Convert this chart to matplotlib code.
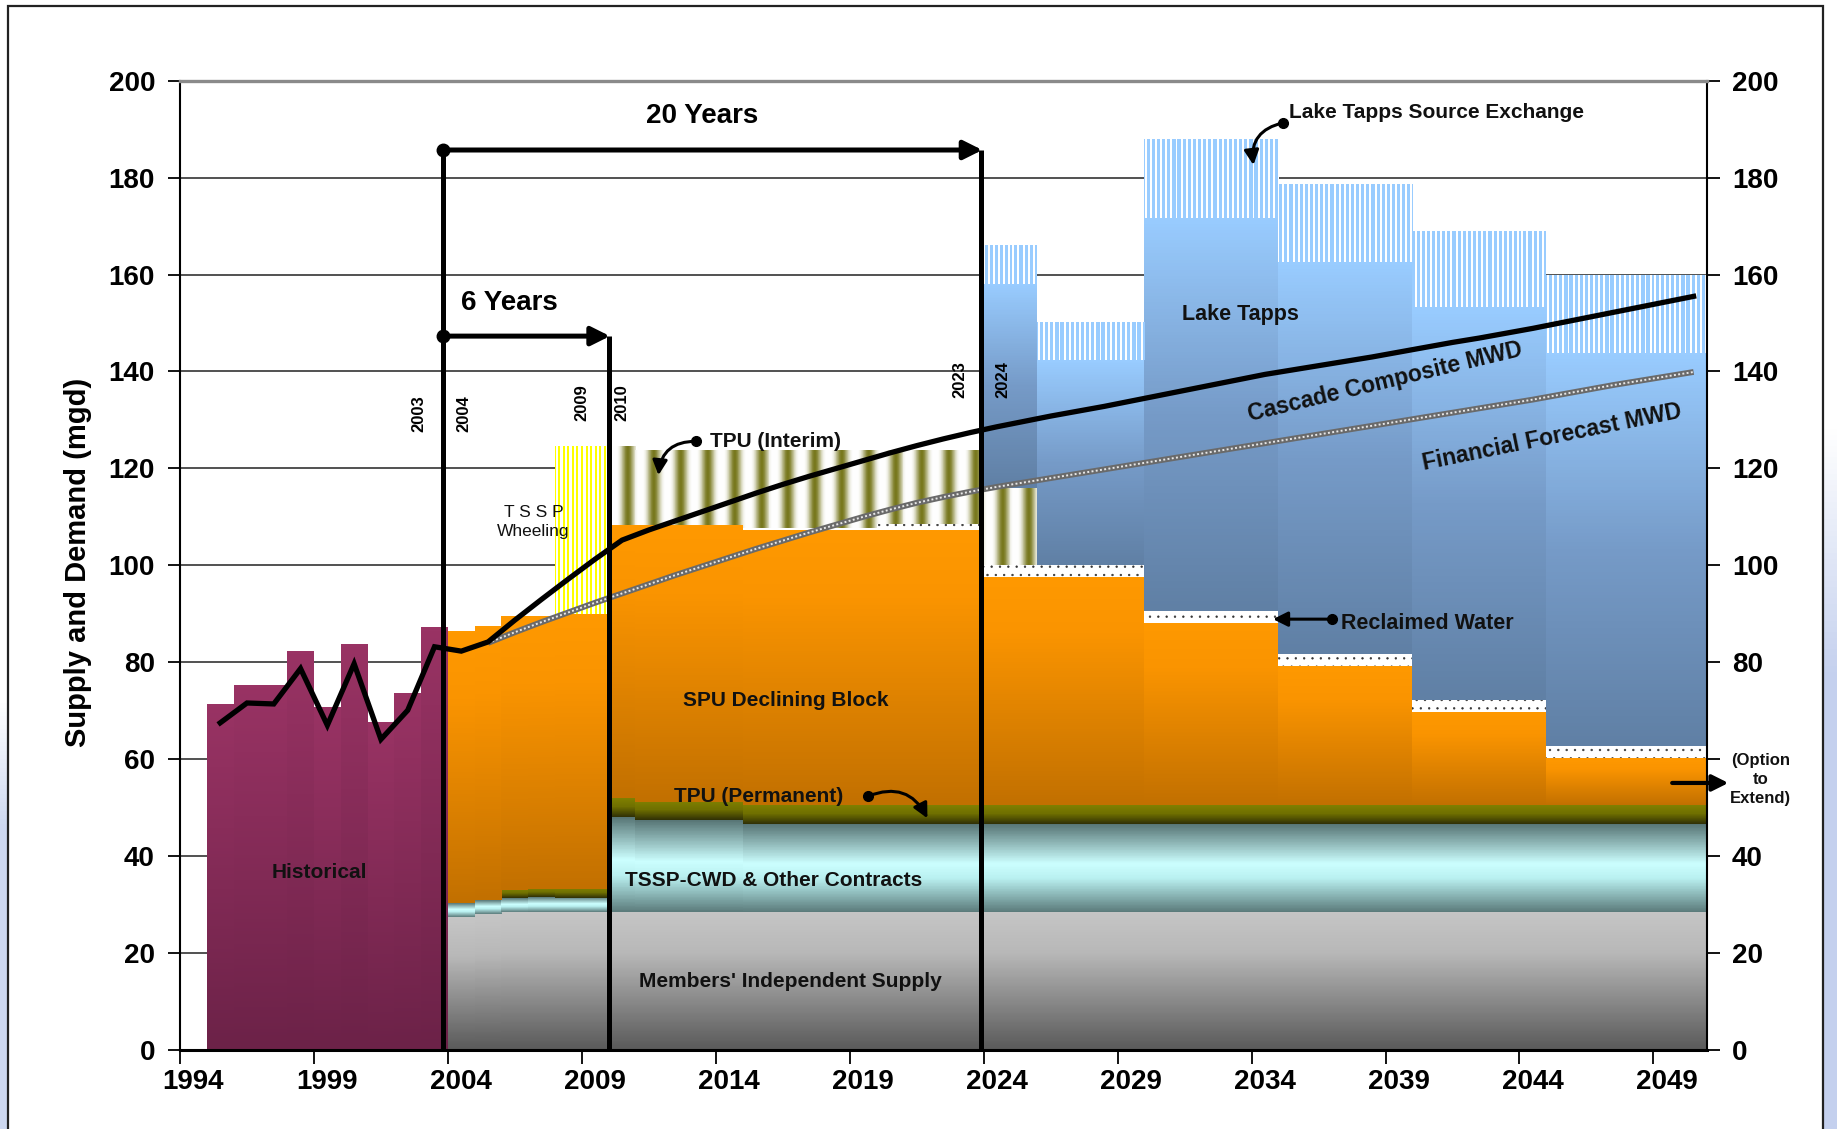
import numpy as np
import matplotlib
matplotlib.use("Agg")
import matplotlib.pyplot as plt
from matplotlib.patches import Rectangle

# ---------------- data (mgd), one value per year 1994..2050 ----------------
years = list(range(1994, 2051))

historical = [0, 71.3, 75.2, 75.2, 82.3, 70.7, 83.6, 67.5, 73.5, 87.2] + [0] * 47
members = [0] * 10 + [27.5, 28.1] + [28.5] * 45
tssp_cwd = [0] * 10 + [2.8, 2.8, 2.8, 3.0, 2.9, 2.9] + [19.6] + [18.9] * 4 + [18.1] * 36
tpu_permanent = [0] * 10 + [0, 0, 1.8, 1.8, 1.9, 1.9] + [3.8] + [3.8] * 4 + [3.9] * 36
spu_block = ([0] * 10 + [56.0, 56.4, 56.5, 56.3, 56.6, 56.6] + [56.4] + [57.1] * 4
             + [56.8] * 9 + [47.1] * 6 + [37.6] * 5 + [28.7] * 5 + [19.3] * 5 + [9.8] * 6)
reclaimed = [0] * 21 + [0.5] * 5 + [1.2] * 4 + [2.5] * 27
tssp_wheeling = [0] * 14 + [34.5, 34.5] + [0] * 41
tpu_interim = [0] * 16 + [16.3] + [15.4] * 4 + [15.9] * 5 + [15.2] * 4 + [15.9] * 2 + [0] * 25
lake_tapps = [0] * 30 + [42.1] * 2 + [42.2] * 4 + [81.1] * 5 + [80.8] * 5 + [81.0] * 5 + [81.1] * 6
lt_exchange = [0] * 30 + [8.0] * 2 + [7.7] * 4 + [16.1] * 5 + [15.9] * 5 + [15.6] * 5 + [16.0] * 6

nan = np.nan
cascade_mwd = [nan, 67.5, 71.6, 71.4, 78.7, 67.0, 79.7, 64.1, 70.1, 83.2,
               82.3, 84.2, 88.7, 93.0, 97.2, 101.3, 105.2, 107.3, 109.2, 111.1,
               113.0, 114.9, 116.7, 118.4, 120.0, 121.6, 123.2, 124.7, 126.1, 127.4,
               128.6, 129.7, 130.8, 131.8, 132.8, 133.9, 135.0, 136.1, 137.2, 138.3,
               139.4, 140.3, 141.2, 142.1, 143.0, 144.0, 145.0, 146.0, 146.9, 147.9,
               148.9, 150.0, 151.1, 152.2, 153.3, 154.4, 155.5]
financial_mwd = [nan] * 11 + [84.0, 86.2, 88.3, 90.3, 92.3, 94.2, 96.1, 98.0, 99.8,
                              101.6, 103.4, 105.1, 106.8, 108.4, 110.0, 111.5, 112.9, 114.1,
                              115.2, 116.2, 117.1, 118.0, 118.9, 119.8, 120.7, 121.6, 122.5,
                              123.4, 124.3, 125.2, 126.1, 127.0, 127.9, 128.8, 129.7, 130.6,
                              131.5, 132.4, 133.3, 134.2, 135.2, 136.2, 137.2, 138.1, 139.0,
                              139.9]

label_years = list(range(1994, 2050, 5))
y_ticks = list(range(0, 201, 20))

# milestone positions (year boundaries) and horizon arrows
line_2003, line_2009, line_2023 = 2003.3, 2009.5, 2023.4
arrow20_y, arrow6_y = 185.7, 147.3

# ---------------- styling helpers ----------------
plt.rcParams['hatch.linewidth'] = 0.45
TICKFONT = ['Liberation Sans', 'DejaVu Sans']
NARROW = ['Liberation Sans Narrow', 'Liberation Sans', 'DejaVu Sans']


def c(*v):
    return np.array(v, dtype=float) / 255.0


WHITE = c(255, 255, 255)


def vgrad(stops, n=120):
    pos = np.linspace(0, 1, n)
    p = [s[0] for s in stops]

    def painter(x0, x1):
        arr = np.zeros((n, 1, 3))
        for k in range(3):
            arr[:, 0, k] = np.interp(pos, p, [s[1][k] for s in stops])
        return arr
    return painter


def stripes(color, period, duty, ncols=160):
    def painter(x0, x1):
        xs = x0 + (np.arange(ncols) + 0.5) / ncols * (x1 - x0)
        ph = ((xs - 1993.5) / period) % 1.0
        m = (ph < duty)[:, None]
        arr = np.where(m, color[None, :], WHITE[None, :])
        return arr[None, :, :]
    return painter


def bar_hgrad(color, peak, power, ncols=120):
    # horizontal gradient inside each bar: white -> colour -> white
    def painter(x0, x1):
        ph = (np.arange(ncols) + 0.5) / ncols
        s = (0.5 + 0.5 * np.cos(2 * np.pi * (ph - peak))) ** power
        arr = WHITE[None, :] * (1 - s[:, None]) + color[None, :] * s[:, None]
        return arr[None, :, :]
    return painter


fig = plt.figure(figsize=(18.37, 11.29), dpi=100)
fig.patch.set_facecolor('white')

# slide background strips and frame
bg = fig.add_axes([1823 / 1837, 0, 14 / 1837, 1])
g = np.ones((200, 1, 3))
t = np.linspace(0, 1, 200)
for k, b in enumerate([196, 208, 238]):
    g[:, 0, k] = np.interp(t, [0, 0.38, 0.6, 1], [255, 255, b, b]) / 255
bg.imshow(g, aspect='auto', extent=[0, 1, 0, 1])
bg.axis('off')
bg2 = fig.add_axes([0, 0, 8 / 1837, 0.38])
g2 = np.ones((100, 1, 3))
for k, b in enumerate([205, 216, 240]):
    g2[:, 0, k] = np.interp(np.linspace(0, 1, 100), [0, 0.3, 1], [255, b, b]) / 255
bg2.imshow(g2, aspect='auto', extent=[0, 1, 0, 1])
bg2.axis('off')
fig.add_artist(Rectangle((8 / 1837, -0.02), (1823 - 8) / 1837, 1.02 - 6 / 1129,
                         transform=fig.transFigure, fill=False, lw=1.6, ec='#222222'))

ax = fig.add_axes([180 / 1837, 1 - 1050 / 1129, (1707 - 180) / 1837, (1050 - 80.7) / 1129])
ax.set_facecolor('white')
x = np.array(years, dtype=float)

series = [
    (historical, vgrad([(0, c(153, 51, 100)), (1, c(108, 34, 72))])),
    (members, vgrad([(0, c(198, 198, 198)), (0.3, c(184, 184, 184)), (1, c(90, 90, 90))])),
    (tssp_cwd, vgrad([(0, c(88, 118, 118)), (0.45, c(204, 255, 255)), (0.62, c(185, 240, 240)),
                      (1, c(92, 124, 124))])),
    (tpu_permanent, vgrad([(0, c(128, 128, 0)), (0.45, c(112, 112, 0)), (1, c(48, 48, 6))])),
    (spu_block, vgrad([(0, c(255, 153, 0)), (0.25, c(250, 148, 0)), (1, c(194, 112, 0))])),
    (reclaimed, 'dots'),
    (tssp_wheeling, stripes(c(255, 255, 0), 0.17, 0.45)),
    (tpu_interim, bar_hgrad(c(120, 120, 30), 0.7, 1.8)),
    (lake_tapps, vgrad([(0, c(153, 204, 255)), (0.5, c(118, 155, 200)), (1, c(96, 128, 165))])),
    (lt_exchange, stripes(c(153, 204, 255), 0.19, 0.62)),
]

bottom = np.zeros(len(years))
for vals, painter in series:
    v = np.array(vals, dtype=float)
    if painter == 'dots':
        ax.bar(x, v, bottom=bottom, width=1.0, facecolor='white', edgecolor='#333333',
               hatch='..', linewidth=0, zorder=2)
    else:
        bars = ax.bar(x, v, bottom=bottom, width=1.0, color='none', linewidth=0, zorder=2)
        for rect, h in zip(bars, v):
            if h <= 0:
                continue
            x0 = rect.get_x()
            x1 = x0 + rect.get_width()
            y0 = rect.get_y()
            y1 = y0 + rect.get_height()
            ax.imshow(painter(x0, x1), extent=[x0, x1, y0, y1], origin='upper',
                      aspect='auto', interpolation='nearest', zorder=2)
    bottom = bottom + v

# demand lines
ax.plot(x, financial_mwd, color='#6a6a6a', lw=4.2, zorder=6, solid_capstyle='butt')
ax.plot(x, financial_mwd, color='#e8e8e8', lw=1.4, ls=(0, (1, 1.2)), zorder=6.1)
ax.plot(x, cascade_mwd, color='black', lw=3.8, zorder=6.5, solid_joinstyle='miter')

# milestone lines and horizon arrows
for lx, top in [(line_2003, arrow20_y), (line_2009, arrow6_y), (line_2023, arrow20_y)]:
    ax.plot([lx, lx], [0, top], color='black', lw=3.6, zorder=7, solid_capstyle='butt')
for y_a, x_end, txt, tx, ty in [(arrow20_y, line_2023, '20 Years', 2013.0, 192.7),
                                (arrow6_y, line_2009, '6 Years', 2005.8, 154.1)]:
    ax.annotate('', xy=(x_end + 0.05, y_a), xytext=(line_2003, y_a),
                arrowprops=dict(arrowstyle='-|>', color='black', lw=3.6,
                                mutation_scale=28, shrinkA=0, shrinkB=0), zorder=7)
    ax.plot([line_2003], [y_a], 'o', color='black', ms=9, zorder=7.5)
    ax.text(tx, ty, txt, ha='center', va='center', fontsize=20, fontweight='bold',
            family=TICKFONT, zorder=8)

for txt, tx, ty in [('2003', 2002.4, 131.4), ('2004', 2004.1, 131.4), ('2009', 2008.5, 133.5),
                    ('2010', 2010.0, 133.5), ('2023', 2022.6, 138.4), ('2024', 2024.2, 138.4)]:
    ax.text(tx, ty, txt, rotation=90, ha='center', va='center', fontsize=12,
            fontweight='bold', family=NARROW, zorder=8)

# text labels
lab = dict(fontweight='bold', family=NARROW, color='#111111', zorder=8)
ax.text(2034.9, 193.4, 'Lake Tapps Source Exchange', ha='left', va='center', fontsize=15, **lab)
ax.text(2033.1, 151.7, 'Lake Tapps', ha='center', va='center', fontsize=15.5, **lab)
ax.text(2038.5, 137.9, 'Cascade Composite MWD', ha='center', va='center', fontsize=16.5,
        rotation=13.5, **lab)
ax.text(2044.7, 126.5, 'Financial Forecast MWD', ha='center', va='center', fontsize=16.5,
        rotation=11.5, **lab)
ax.text(2013.3, 125.6, 'TPU (Interim)', ha='left', va='center', fontsize=15, **lab)
ax.text(2006.7, 108.9, 'T S S P\nWheeling', ha='center', va='center', fontsize=12.5,
        family=NARROW, color='#111111', zorder=8, linespacing=1.3)
ax.text(2016.1, 72.2, 'SPU Declining Block', ha='center', va='center', fontsize=15, **lab)
ax.text(2015.1, 52.4, 'TPU (Permanent)', ha='center', va='center', fontsize=15, **lab)
ax.text(1998.7, 36.7, 'Historical', ha='center', va='center', fontsize=15, **lab)
ax.text(2015.65, 35.0, 'TSSP-CWD & Other Contracts', ha='center', va='center', fontsize=15, **lab)
ax.text(2016.3, 14.2, "Members' Independent Supply", ha='center', va='center', fontsize=15, **lab)
ax.text(2036.85, 88.1, 'Reclaimed Water', ha='left', va='center', fontsize=15.5, **lab)
ax.text(2052.5, 55.8, '(Option\nto\nExtend)', ha='center', va='center', fontsize=12,
        linespacing=1.35, clip_on=False, **lab)

# curved pointer arrows with dot tails
for (dx, dy), (hx, hy), rad in [((2034.67, 191.3), (2033.57, 182.6), 0.45),
                                ((2012.76, 125.6), (2011.36, 118.6), 0.45),
                                ((2019.2, 52.4), (2021.4, 47.8), -0.45),
                                ((2036.5, 88.9), (2034.3, 88.9), 0.0)]:
    ax.annotate('', xy=(hx, hy), xytext=(dx, dy),
                arrowprops=dict(arrowstyle='-|>', color='black', lw=2.2, mutation_scale=22,
                                shrinkA=0, shrinkB=0,
                                connectionstyle='arc3,rad=%s' % rad), zorder=8)
    ax.plot([dx], [dy], 'o', color='black', ms=7, zorder=8)
ax.annotate('', xy=(2051.3, 55.1), xytext=(2049.2, 55.1), annotation_clip=False,
            arrowprops=dict(arrowstyle='-|>', color='black', lw=3, mutation_scale=24,
                            shrinkA=0, shrinkB=0), zorder=8)

# axes
ax.set_xlim(1993.5, 2050.5)
ax.set_ylim(0, 200)
ax.set_yticks(y_ticks)
ax.set_xticks(label_years)
ax.set_xticklabels([str(v) for v in label_years])
ax.set_xticks([v - 0.5 for v in label_years], minor=True)
ax.tick_params(axis='x', which='major', length=0, pad=14, labelsize=20)
ax.tick_params(axis='x', which='minor', length=10, width=1.3, direction='out')
ax.tick_params(axis='y', which='major', length=9, width=1.3, direction='out', pad=9,
               labelsize=20, right=True, labelright=True)
for lbl in ax.get_xticklabels() + ax.get_yticklabels():
    lbl.set_fontweight('bold')
    lbl.set_family(TICKFONT)
# right-hand "60" is covered by the "(Option to Extend)" note in the original
for tk in ax.yaxis.get_major_ticks():
    if abs(tk.get_loc() - 60) < 1e-6:
        tk.label2.set_visible(False)
ax.grid(axis='y', color='#222222', lw=1.1)
ax.set_axisbelow(True)
for s in ['left', 'right']:
    ax.spines[s].set_linewidth(1.5)
ax.spines['bottom'].set_linewidth(2.2)
ax.spines['top'].set_color('#8a8a8a')
ax.spines['top'].set_linewidth(2.4)

fig.text(78.5 / 1837, 1 - 562 / 1129, 'Supply and Demand (mgd)', rotation=90, ha='center',
         va='center', fontsize=21, fontweight='bold', family=TICKFONT)

fig.savefig('out.png', dpi=100)
